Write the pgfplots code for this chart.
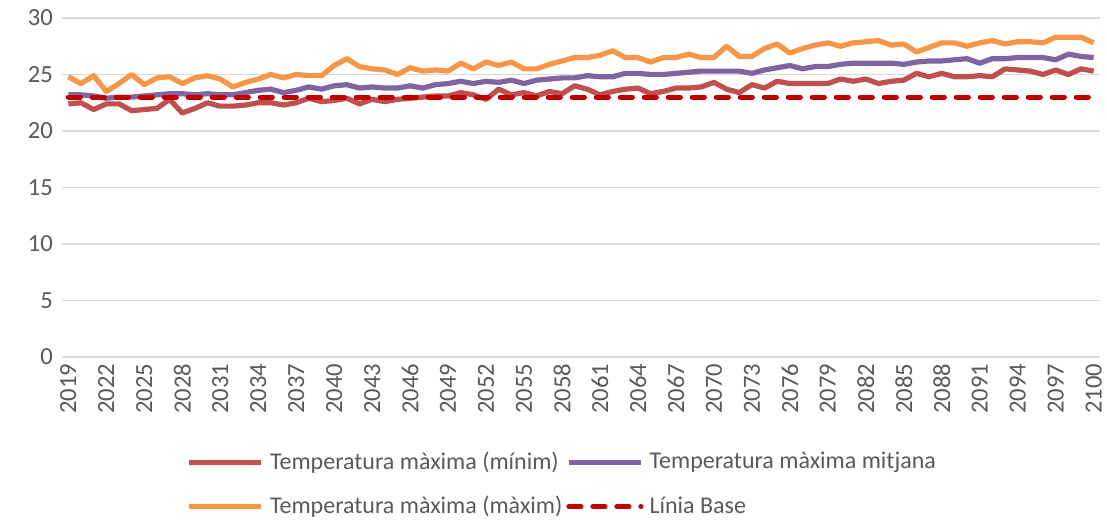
\documentclass[border=0pt]{standalone}
\usepackage{pgfplots}
\pgfplotsset{compat=1.18}
\usepackage{pgfplotstable}
\usepackage{fontspec}
\setmainfont{Carlito}
\definecolor{cmin}{HTML}{C0504D}
\definecolor{cmean}{HTML}{8064A2}
\definecolor{cmax}{HTML}{F79646}
\definecolor{cbase}{HTML}{C00000}
\definecolor{txt}{HTML}{595959}
\definecolor{grd}{HTML}{D9D9D9}
\pgfplotstableread{
year min mean max base
2019 22.4 23.2 24.8 23.0
2020 22.5 23.2 24.2 23.0
2021 21.9 23.1 24.9 23.0
2022 22.4 22.9 23.5 23.0
2023 22.4 23.0 24.2 23.0
2024 21.8 23.0 25.0 23.0
2025 21.9 23.1 24.1 23.0
2026 22.0 23.2 24.7 23.0
2027 22.8 23.3 24.8 23.0
2028 21.6 23.3 24.2 23.0
2029 22.0 23.2 24.7 23.0
2030 22.5 23.3 24.9 23.0
2031 22.2 23.2 24.6 23.0
2032 22.2 23.2 23.9 23.0
2033 22.3 23.4 24.3 23.0
2034 22.5 23.6 24.6 23.0
2035 22.5 23.7 25.0 23.0
2036 22.3 23.4 24.7 23.0
2037 22.5 23.6 25.0 23.0
2038 22.9 23.9 24.9 23.0
2039 22.6 23.7 24.9 23.0
2040 22.7 24.0 25.8 23.0
2041 22.9 24.1 26.4 23.0
2042 22.4 23.8 25.7 23.0
2043 22.8 23.9 25.5 23.0
2044 22.6 23.8 25.4 23.0
2045 22.8 23.8 25.0 23.0
2046 22.9 24.0 25.6 23.0
2047 23.0 23.8 25.3 23.0
2048 23.1 24.1 25.4 23.0
2049 23.1 24.2 25.3 23.0
2050 23.4 24.4 26.0 23.0
2051 23.2 24.2 25.5 23.0
2052 22.8 24.4 26.1 23.0
2053 23.7 24.3 25.8 23.0
2054 23.2 24.5 26.1 23.0
2055 23.4 24.2 25.5 23.0
2056 23.1 24.5 25.5 23.0
2057 23.5 24.6 25.9 23.0
2058 23.3 24.7 26.2 23.0
2059 24.0 24.7 26.5 23.0
2060 23.7 24.9 26.5 23.0
2061 23.2 24.8 26.7 23.0
2062 23.5 24.8 27.1 23.0
2063 23.7 25.1 26.5 23.0
2064 23.8 25.1 26.5 23.0
2065 23.3 25.0 26.1 23.0
2066 23.5 25.0 26.5 23.0
2067 23.8 25.1 26.5 23.0
2068 23.8 25.2 26.8 23.0
2069 23.9 25.3 26.5 23.0
2070 24.3 25.3 26.5 23.0
2071 23.7 25.3 27.5 23.0
2072 23.4 25.3 26.6 23.0
2073 24.1 25.1 26.6 23.0
2074 23.8 25.4 27.3 23.0
2075 24.4 25.6 27.7 23.0
2076 24.2 25.8 26.9 23.0
2077 24.2 25.5 27.3 23.0
2078 24.2 25.7 27.6 23.0
2079 24.2 25.7 27.8 23.0
2080 24.6 25.9 27.5 23.0
2081 24.4 26.0 27.8 23.0
2082 24.6 26.0 27.9 23.0
2083 24.2 26.0 28.0 23.0
2084 24.4 26.0 27.6 23.0
2085 24.5 25.9 27.7 23.0
2086 25.1 26.1 27.0 23.0
2087 24.8 26.2 27.4 23.0
2088 25.1 26.2 27.8 23.0
2089 24.8 26.3 27.8 23.0
2090 24.8 26.4 27.5 23.0
2091 24.9 26.0 27.8 23.0
2092 24.8 26.4 28.0 23.0
2093 25.5 26.4 27.7 23.0
2094 25.4 26.5 27.9 23.0
2095 25.3 26.5 27.9 23.0
2096 25.0 26.5 27.8 23.0
2097 25.4 26.3 28.3 23.0
2098 25.0 26.8 28.3 23.0
2099 25.5 26.6 28.3 23.0
2100 25.3 26.5 27.8 23.0
}\datatable
\begin{document}
\begin{tikzpicture}
\useasboundingbox (-31pt,-81pt) rectangle (522.5pt,178.5pt);
\begin{axis}[
  scale only axis,
  width=519pt, height=169.5pt,
  xmin=2018.5, xmax=2100.5,
  ymin=0, ymax=30,
  ytick={0,5,...,30},
  xtick={2019,2022,...,2100},
  axis line style={draw=none},
  major tick length=0pt,
  ymajorgrids,
  grid style={grd, line width=0.9pt},
  tick label style={font=\fontsize{12.3}{14}\selectfont, text=txt},
  xticklabel style={rotate=90, anchor=east},
  yticklabel style={xshift=-1pt},
  /pgf/number format/assume math mode=true,
  /pgf/number format/1000 sep={},
  clip=false,
  legend columns=2,
  legend style={at={(0.483,-0.255)}, anchor=north, draw=none, fill=none,
    font=\fontsize{12}{14}\selectfont, text=txt,
    row sep=8pt,
    /tikz/every odd column/.append style={column sep=1pt}},
  legend cell align=left,
  legend image code/.code={\draw[#1] (0pt,0pt) -- (36pt,0pt);},
  every axis plot/.append style={line width=2.6pt, line join=round},
]
\addplot[cmin, mark=none] table[x=year, y=min] {\datatable};
\addlegendentry{Temperatura màxima (mínim)}
\addplot[cmean, mark=none] table[x=year, y=mean] {\datatable};
\addlegendentry{Temperatura màxima mitjana}
\addplot[cmax, mark=none] table[x=year, y=max] {\datatable};
\addlegendentry{Temperatura màxima (màxim)}
\addplot[cbase, mark=none, dash pattern=on 6pt off 6pt, line cap=round] table[x=year, y=base] {\datatable};
\addlegendentry{Línia Base}
\end{axis}
\end{tikzpicture}
\end{document}
